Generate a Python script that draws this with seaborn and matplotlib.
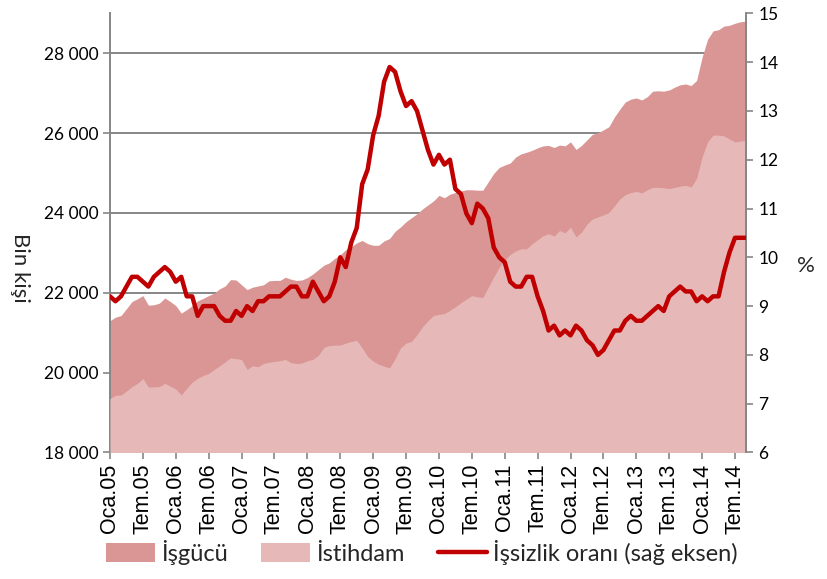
import numpy as np
import pandas as pd
import matplotlib
matplotlib.use("Agg")
import matplotlib.pyplot as plt
import seaborn as sns
from matplotlib.patches import Patch
from matplotlib.lines import Line2D

# Monthly data, Oca.05 (Jan 2005) ... Eyl.14 (Sep 2014)
labor_force = [
    21300, 21390, 21430, 21600, 21780, 21850, 21930, 21690, 21700, 21740, 21870, 21780,
    21680, 21490, 21580, 21680, 21800, 21860, 21930, 21990, 22100, 22170, 22330, 22320,
    22200, 22080, 22140, 22170, 22200, 22300, 22310, 22310, 22390, 22340, 22310, 22320,
    22380, 22470, 22580, 22690, 22750, 22860, 22950, 23080, 23150, 23250, 23310, 23230,
    23190, 23190, 23300, 23360, 23540, 23650, 23780, 23880, 23980, 24100, 24200, 24300,
    24440, 24380, 24470, 24510, 24550, 24580, 24580, 24570, 24570, 24780, 24990, 25140,
    25200, 25250, 25400, 25480, 25520, 25570, 25630, 25680, 25690, 25640, 25700, 25680,
    25780, 25590, 25690, 25830, 25970, 26010, 26080, 26160, 26400, 26600, 26780, 26850,
    26880, 26830, 26910, 27050, 27060, 27050, 27080, 27150, 27210, 27230, 27190, 27320,
    27900, 28350, 28560, 28590, 28680, 28700, 28750, 28790, 28800]

employment = [
    19350, 19430, 19440, 19540, 19650, 19730, 19850, 19640, 19640, 19650, 19730, 19660,
    19590, 19440, 19610, 19760, 19860, 19930, 19980, 20080, 20170, 20270, 20370, 20350,
    20330, 20080, 20170, 20150, 20230, 20260, 20280, 20300, 20330, 20250, 20230, 20240,
    20300, 20330, 20430, 20630, 20680, 20690, 20690, 20740, 20780, 20810, 20620, 20400,
    20290, 20210, 20160, 20120, 20350, 20620, 20740, 20780, 20950, 21150, 21300, 21430,
    21460, 21480, 21560, 21650, 21750, 21840, 21930, 21900, 21880, 22140, 22400, 22640,
    22820, 22960, 23050, 23100, 23100, 23230, 23330, 23430, 23480, 23420, 23560, 23500,
    23640, 23400, 23520, 23720, 23850, 23900, 23950, 24010, 24180, 24350, 24460, 24510,
    24540, 24500, 24580, 24640, 24640, 24630, 24610, 24640, 24670, 24690, 24650, 24870,
    25400, 25780, 25950, 25950, 25930, 25850, 25780, 25800, 25820]

unemployment_rate = [
    9.2, 9.1, 9.2, 9.4, 9.6, 9.6, 9.5, 9.4, 9.6, 9.7, 9.8, 9.7,
    9.5, 9.6, 9.2, 9.2, 8.8, 9.0, 9.0, 9.0, 8.8, 8.7, 8.7, 8.9,
    8.8, 9.0, 8.9, 9.1, 9.1, 9.2, 9.2, 9.2, 9.3, 9.4, 9.4, 9.2,
    9.2, 9.5, 9.3, 9.1, 9.2, 9.5, 10.0, 9.8, 10.3, 10.6, 11.5, 11.8,
    12.5, 12.9, 13.6, 13.9, 13.8, 13.4, 13.1, 13.2, 13.0, 12.6, 12.2, 11.9,
    12.1, 11.9, 12.0, 11.4, 11.3, 10.9, 10.7, 11.1, 11.0, 10.8, 10.2, 10.0,
    9.9, 9.5, 9.4, 9.4, 9.6, 9.6, 9.2, 8.9, 8.5, 8.6, 8.4, 8.5,
    8.4, 8.6, 8.5, 8.3, 8.2, 8.0, 8.1, 8.3, 8.5, 8.5, 8.7, 8.8,
    8.7, 8.7, 8.8, 8.9, 9.0, 8.9, 9.2, 9.3, 9.4, 9.3, 9.3, 9.1,
    9.2, 9.1, 9.2, 9.2, 9.7, 10.1, 10.4, 10.4, 10.4]

tick_labels = ["Oca.05", "Tem.05", "Oca.06", "Tem.06", "Oca.07", "Tem.07", "Oca.08",
               "Tem.08", "Oca.09", "Tem.09", "Oca.10", "Tem.10", "Oca.11", "Tem.11",
               "Oca.12", "Tem.12", "Oca.13", "Tem.13", "Oca.14", "Tem.14"]
left_ticks = [18000, 20000, 22000, 24000, 26000, 28000]
right_ticks = [6, 7, 8, 9, 10, 11, 12, 13, 14, 15]

legend_labels = ["İşgücü", "İstihdam", "İşsizlik oranı (sağ eksen)"]

df = pd.DataFrame({
    "t": np.arange(len(labor_force)),
    "isgucu": labor_force,
    "istihdam": employment,
    "oran": unemployment_rate,
})

sns.set_theme(style="white")
plt.rcParams["font.family"] = ["Lato", "DejaVu Sans"]

C_DARK = "#D99694"
C_LIGHT = "#E6B9B8"
C_LINE = "#C00000"
C_GRAY = "#868686"

fig = plt.figure(figsize=(8.27, 5.79), dpi=100)
ax = fig.add_axes([0.133, 0.2185, 0.769, 0.7585])

ax.fill_between(df["t"], 18000, df["isgucu"], color=C_DARK, lw=0, zorder=2)
ax.fill_between(df["t"], 18000, df["istihdam"], color=C_LIGHT, lw=0, zorder=3)

ax.set_xlim(0, len(df) - 1)
ax.set_ylim(18000, 29000)
ax.set_yticks(left_ticks)
ax.set_yticklabels([f"{v:,}".replace(",", " ") for v in left_ticks], fontsize=12.5)
ax.yaxis.grid(True, color=C_GRAY, lw=1.4, zorder=1)
ax.set_axisbelow(True)
ax.set_xticks(np.arange(0, len(df), 6))
ax.set_xticklabels(tick_labels, rotation=90, fontsize=15.5,
                   fontfamily=["Liberation Sans", "DejaVu Sans"])
ax.set_ylabel("")

for s in ["top", "right"]:
    ax.spines[s].set_visible(False)
for s in ["left", "bottom"]:
    ax.spines[s].set_color(C_GRAY)
    ax.spines[s].set_linewidth(1.4)
ax.tick_params(axis="both", which="both", direction="out", length=5, width=1.2,
               color=C_GRAY, left=True, bottom=True, pad=3, labelcolor="black")

ax2 = ax.twinx()
sns.lineplot(data=df, x="t", y="oran", ax=ax2, color=C_LINE, lw=3.2, zorder=5)
ax2.set_ylim(6, 15)
ax2.set_yticks(right_ticks)
ax2.set_yticklabels([str(v) for v in right_ticks], fontsize=12.5)
ax2.set_ylabel("")
ax2.set_xlabel("")
ax2.grid(False)
for s in ["top", "left", "bottom"]:
    ax2.spines[s].set_visible(False)
ax2.spines["right"].set_color(C_GRAY)
ax2.spines["right"].set_linewidth(1.4)
ax2.tick_params(axis="y", direction="out", length=5, width=1.2, color=C_GRAY,
                right=True, pad=4, labelcolor="black")

fig.text(20 / 827, 1 - 268 / 579, "Bin kişi", rotation=270, fontsize=16,
         ha="center", va="center")
fig.text(806 / 827, 1 - 266 / 579, "%", fontsize=16, ha="center", va="center")

handles = [Patch(facecolor=C_DARK, edgecolor="none"),
           Patch(facecolor=C_LIGHT, edgecolor="none"),
           Line2D([0], [0], color=C_LINE, lw=3.2)]
fig.legend(handles, legend_labels, loc="lower center", ncol=3, frameon=False,
           bbox_to_anchor=(0.51, -0.012), fontsize=17, handlelength=2.1,
           handleheight=0.8, columnspacing=1.4, handletextpad=0.25)

fig.savefig("out.png", dpi=100)
